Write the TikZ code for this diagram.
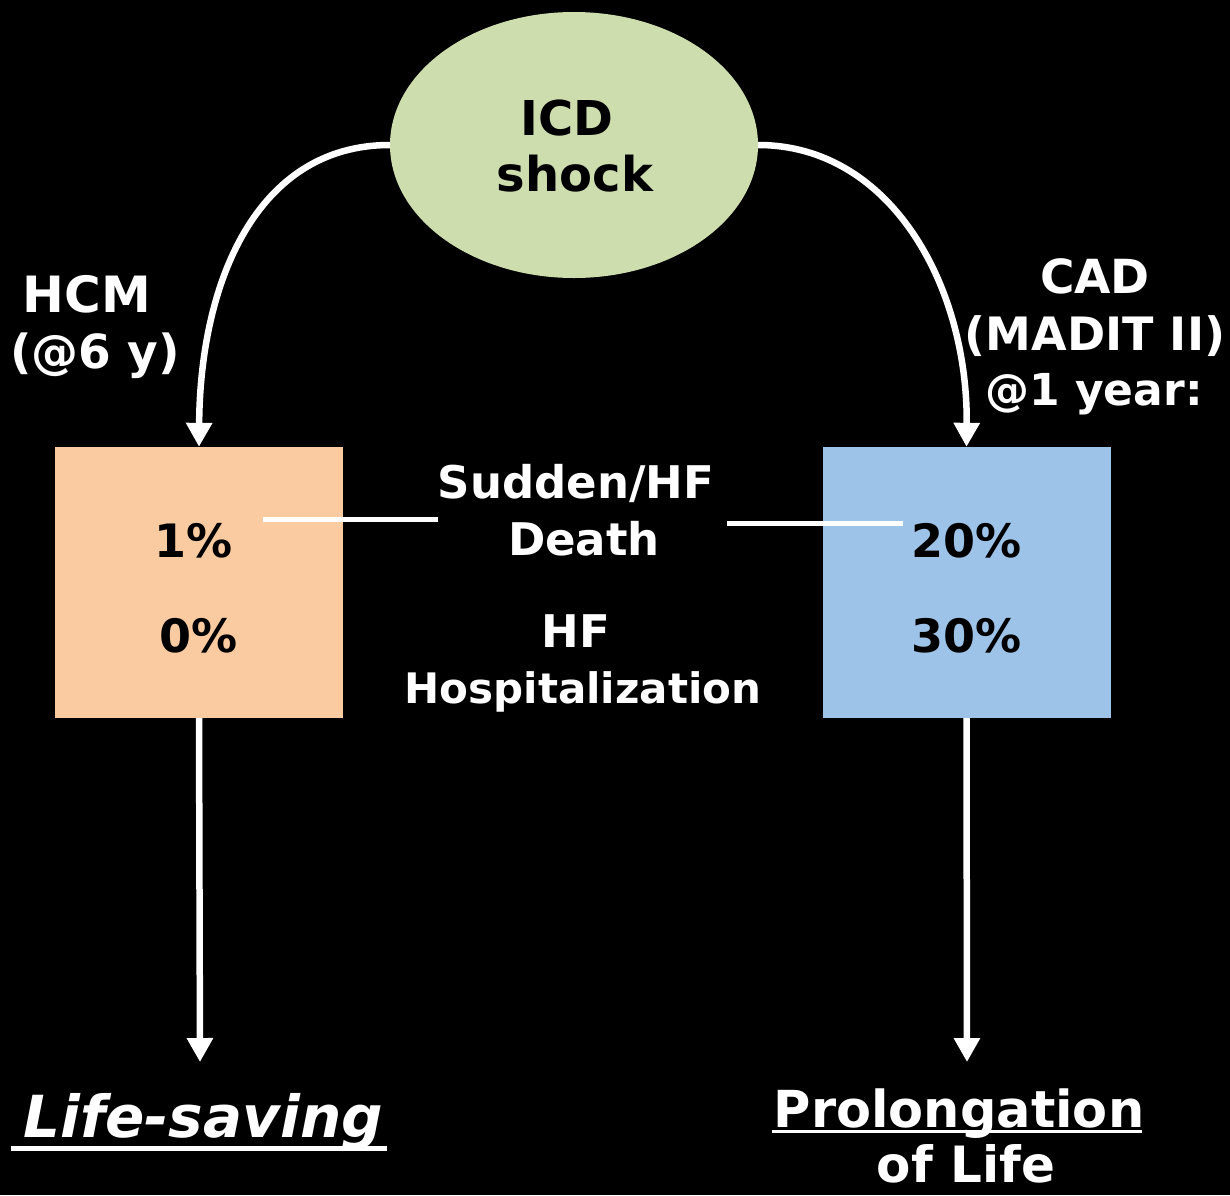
\documentclass[tikz,border=0pt]{standalone}
\usepackage{fontspec}
\setmainfont{DejaVu Sans}
\usetikzlibrary{arrows.meta,shapes.geometric}
\definecolor{shockgreen}{RGB}{206,221,173}
\definecolor{peach}{RGB}{250,203,160}
\definecolor{skyblue}{RGB}{158,195,232}
\tikzset{
  txt/.style={text=white,font=\bfseries\fontsize{#1}{#1}\selectfont,inner sep=0pt,anchor=base},
  btxt/.style={text=black,font=\bfseries\fontsize{#1}{#1}\selectfont,inner sep=0pt,anchor=base},
  arr/.style={white,line width=6.5pt,-{Triangle[width=25pt,length=24pt]}},
  wline/.style={white,line width=5pt},
  uline/.style={white,line width=#1},
}
\begin{document}
\begin{tikzpicture}[x=1pt,y=-1pt]
\path[fill=black,use as bounding box] (0,0) rectangle (1230,1195);
% ellipse
\node[ellipse,fill=shockgreen,minimum width=368pt,minimum height=266pt,inner sep=0pt] (icd) at (574,145) {};
\node[btxt=48] (icd1) at (567,135) {ICD};
\node[btxt=48] (icd2) at (575,191) {shock};
% boxes
\node[fill=peach,minimum width=288pt,minimum height=271pt,inner sep=0pt] (hcmbox) at (199,582.5) {};
\node[fill=skyblue,minimum width=288pt,minimum height=271pt,inner sep=0pt] (cadbox) at (966.5,582.5) {};
% labels
\node[txt=50] (hcm1) at (87,312) {HCM};
\node[txt=47] (hcm2) at (95,368) {(@6 y)};
\node[txt=47] (cad1) at (1095,293) {CAD};
\node[txt=46] (cad2) at (1095,350) {(MADIT II)};
\node[txt=44] (cad3) at (1094,405) {@1 year:};
% percentages
\node[btxt=46] (p1) at (194,557) {1\%};
\node[btxt=46] (p2) at (199,652) {0\%};
\node[btxt=46] (p3) at (967,557) {20\%};
\node[btxt=46] (p4) at (967,652) {30\%};
% middle
\node[txt=45] (m1) at (576,498) {Sudden/HF};
\node[txt=45] (m2) at (584,555) {Death};
\node[txt=45] (m3) at (576,647) {HF};
\node[txt=42] (m4) at (583,703) {Hospitalization};
% bottom
\node[txt=58,font=\bfseries\itshape\fontsize{58}{58}\selectfont] (ls) at (203,1137) {Life-saving};
\node[txt=51] (pl) at (959,1127) {Prolongation};
\node[txt=50] (pl2) at (966,1182) {of Life};
\draw[uline=5pt] ([xshift=-12pt,yshift=-11pt]ls.base west) -- ([xshift=4pt,yshift=-11pt]ls.base east);
\draw[uline=3pt] ([xshift=-2pt,yshift=-4pt]pl.base west) -- ([xshift=-2pt,yshift=-4pt]pl.base east);
% connectors
\draw[arr] (icd.west) .. controls (255,145) and (200,285) .. (hcmbox.north);
\draw[arr] (icd.east) .. controls (890,145) and (968,285) .. (cadbox.north);
\coordinate (lsend) at (200,1062);
\coordinate (plend) at (967,1062);
\draw[arr] (hcmbox.south) -- (lsend);
\draw[arr] (cadbox.south) -- (plend);
\coordinate (l1a) at (263,519);
\coordinate (l1b) at (438,519);
\coordinate (l2a) at (727,523);
\coordinate (l2b) at (903,523);
\draw[wline] (l1a) -- (l1b);
\draw[wline] (l2a) -- (l2b);
\end{tikzpicture}
\end{document}
